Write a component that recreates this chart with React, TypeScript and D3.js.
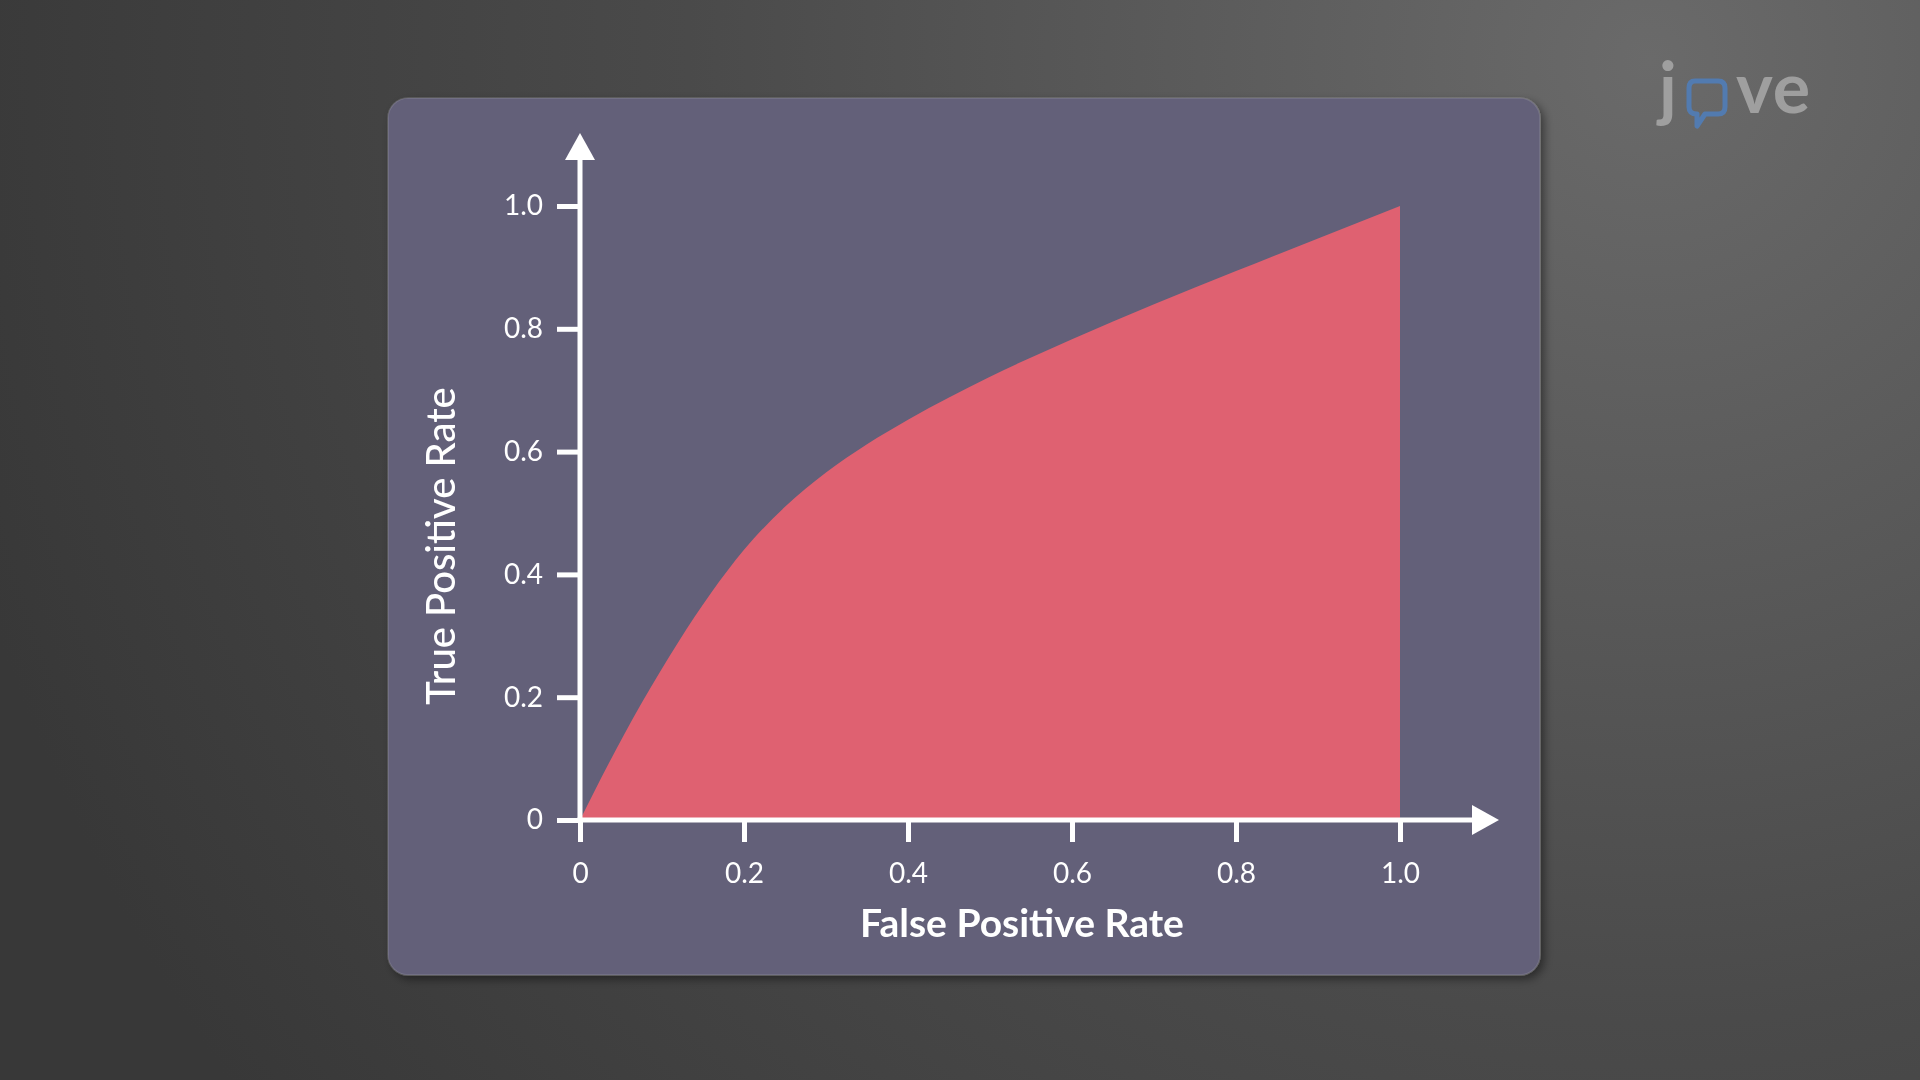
import { useEffect, useRef } from 'react';
import * as d3 from 'd3';

const fprValues = [0, 0.035, 0.075, 0.12, 0.16, 0.2, 0.25, 0.3, 0.35, 0.4, 0.45, 0.5, 0.6, 0.7, 0.8, 0.9, 1.0];
const tprValues = [0, 0.092, 0.19, 0.29, 0.37, 0.44, 0.51, 0.566, 0.612, 0.652, 0.688, 0.722, 0.783, 0.84, 0.894, 0.947, 1.0];
const xTicks = [0, 0.2, 0.4, 0.6, 0.8, 1.0];
const yTicks = [0, 0.2, 0.4, 0.6, 0.8, 1.0];
const xTitle = 'False Positive Rate';
const yTitle = 'True Positive Rate';

const WIDTH = 1920;
const HEIGHT = 1080;
const FONT = "Lato, 'Open Sans', sans-serif";

interface RocPoint {
  fpr: number;
  tpr: number;
}

const formatTick = (value: number) => (value === 0 ? '0' : value.toFixed(1));

export default function App() {
  const svgRef = useRef<SVGSVGElement>(null);

  useEffect(() => {
    if (!svgRef.current) return;

    const svg = d3.select(svgRef.current);
    svg.selectAll('*').remove();

    const points: RocPoint[] = fprValues.map((fpr, i) => ({ fpr, tpr: tprValues[i] }));

    const defs = svg.append('defs');
    const bg = defs
      .append('radialGradient')
      .attr('id', 'bg-gradient')
      .attr('gradientUnits', 'userSpaceOnUse')
      .attr('cx', 1650)
      .attr('cy', 60)
      .attr('r', 1750);
    bg.append('stop').attr('offset', '0%').attr('stop-color', '#6a6a6a');
    bg.append('stop').attr('offset', '55%').attr('stop-color', '#4a4a4a');
    bg.append('stop').attr('offset', '100%').attr('stop-color', '#383838');

    const shadow = defs
      .append('filter')
      .attr('id', 'panel-shadow')
      .attr('x', '-5%')
      .attr('y', '-5%')
      .attr('width', '110%')
      .attr('height', '110%');
    shadow
      .append('feDropShadow')
      .attr('dx', 4)
      .attr('dy', 4)
      .attr('stdDeviation', 5)
      .attr('flood-color', '#000')
      .attr('flood-opacity', 0.45);

    svg.append('rect').attr('width', WIDTH).attr('height', HEIGHT).attr('fill', 'url(#bg-gradient)');

    // panel
    svg
      .append('rect')
      .attr('x', 388)
      .attr('y', 98)
      .attr('width', 1152)
      .attr('height', 877)
      .attr('rx', 20)
      .attr('fill', '#646179')
      .attr('stroke', 'rgba(255,255,255,0.12)')
      .attr('stroke-width', 1.5)
      .attr('filter', 'url(#panel-shadow)');

    const x = d3.scaleLinear().domain([0, 1]).range([580, 1400]);
    const y = d3.scaleLinear().domain([0, 1]).range([820, 206]);

    const area = d3
      .area<RocPoint>()
      .x((d) => x(d.fpr))
      .y0(y(0))
      .y1((d) => y(d.tpr))
      .curve(d3.curveMonotoneX);

    svg.append('path').datum(points).attr('fill', '#df6171').attr('d', area);

    const chart = svg.append('g');

    chart
      .append('g')
      .attr('transform', `translate(0,${y(0)})`)
      .call(
        d3
          .axisBottom(x)
          .tickValues(xTicks)
          .tickSize(22)
          .tickPadding(21)
          .tickFormat((d) => formatTick(+d))
      )
      .call((group) => {
        group.select('.domain').remove();
        group.selectAll('.tick line').attr('stroke', '#fff').attr('stroke-width', 5);
        group
          .selectAll('.tick text')
          .attr('fill', '#fff')
          .attr('font-size', 28)
          .attr('font-family', FONT);
      });

    chart
      .append('g')
      .attr('transform', `translate(${x(0)},0)`)
      .call(
        d3
          .axisLeft(y)
          .tickValues(yTicks)
          .tickSize(23)
          .tickPadding(14)
          .tickFormat((d) => formatTick(+d))
      )
      .call((group) => {
        group.select('.domain').remove();
        group.selectAll('.tick line').attr('stroke', '#fff').attr('stroke-width', 5);
        group
          .selectAll('.tick text')
          .attr('fill', '#fff')
          .attr('font-size', 28)
          .attr('font-family', FONT);
      });

    // axis lines with arrow heads
    const x0 = x(0);
    const y0 = y(0);
    chart
      .append('line')
      .attr('x1', x0 - 2.5)
      .attr('x2', 1474)
      .attr('y1', y0)
      .attr('y2', y0)
      .attr('stroke', '#fff')
      .attr('stroke-width', 5);
    chart
      .append('path')
      .attr('d', `M1472,${y0 - 15} L1499,${y0} L1472,${y0 + 15} Z`)
      .attr('fill', '#fff');
    chart
      .append('line')
      .attr('x1', x0)
      .attr('x2', x0)
      .attr('y1', y0 + 2.5)
      .attr('y2', 158)
      .attr('stroke', '#fff')
      .attr('stroke-width', 5);
    chart
      .append('path')
      .attr('d', `M${x0 - 15},160 L${x0},133 L${x0 + 15},160 Z`)
      .attr('fill', '#fff');

    chart
      .append('text')
      .attr('x', 1022)
      .attr('y', 937)
      .attr('text-anchor', 'middle')
      .attr('fill', '#fff')
      .attr('font-size', 39)
      .attr('font-weight', 700)
      .attr('font-family', FONT)
      .text(xTitle);

    chart
      .append('text')
      .attr('transform', 'translate(455,546) rotate(-90)')
      .attr('text-anchor', 'middle')
      .attr('fill', '#fff')
      .attr('font-size', 40)
      .attr('font-weight', 500)
      .attr('font-family', FONT)
      .text(yTitle);

    // logo
    const logo = svg.append('g').attr('opacity', 0.85);
    logo
      .append('text')
      .attr('x', 1659)
      .attr('y', 113)
      .attr('fill', '#a9a9a9')
      .attr('font-size', 70)
      .attr('font-weight', 700)
      .attr('font-family', FONT)
      .text('j');
    logo
      .append('path')
      .attr('d', 'M1695,81 H1718 Q1725,81 1725,88 V107 Q1725,114 1718,114 H1705 L1697,126 V114 Q1689,114 1689,107 V88 Q1689,81 1695,81 Z')
      .attr('fill', 'none')
      .attr('stroke', '#4f7fbd')
      .attr('stroke-width', 5)
      .attr('stroke-linejoin', 'round');
    logo
      .append('text')
      .attr('x', 1736)
      .attr('y', 113)
      .attr('fill', '#a9a9a9')
      .attr('font-size', 70)
      .attr('font-weight', 700)
      .attr('letter-spacing', 1)
      .attr('font-family', FONT)
      .text('ve');
  }, []);

  return (
    <svg
      ref={svgRef}
      width={WIDTH}
      height={HEIGHT}
      viewBox={`0 0 ${WIDTH} ${HEIGHT}`}
      style={{ position: 'fixed', left: 0, top: 0, display: 'block' }}
    />
  );
}
